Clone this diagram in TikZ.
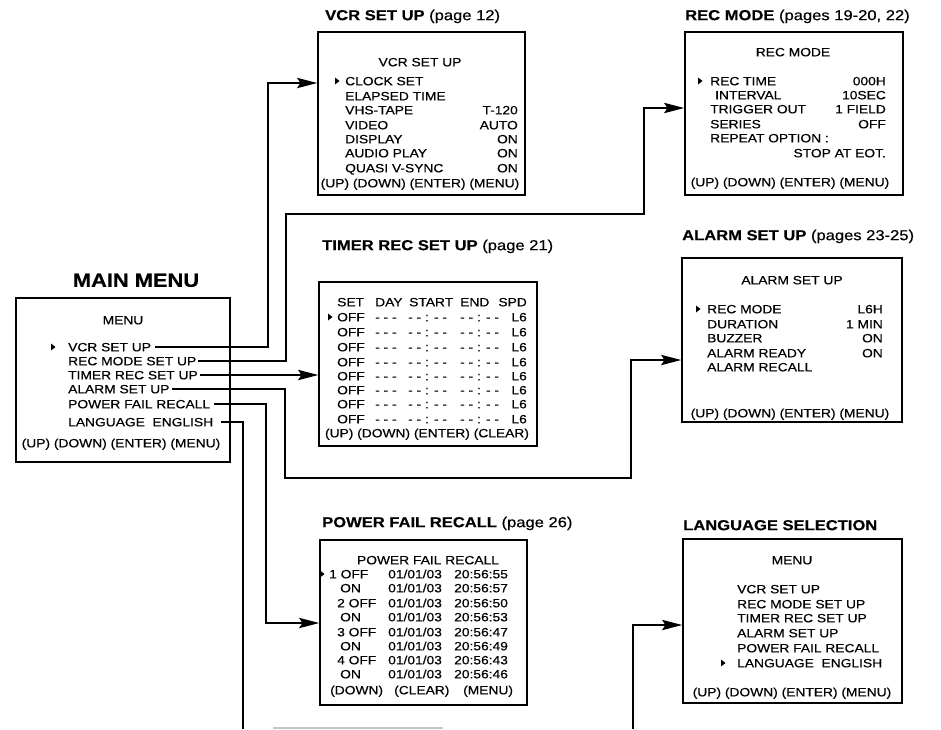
\documentclass[tikz,border=0pt]{standalone}
\usepackage{fontspec}
\setmainfont{Liberation Sans}[FakeStretch=1.15,FakeBold=0.4]
\usetikzlibrary{arrows.meta}
\begin{document}
\begin{tikzpicture}[x=1pt,y=-1pt,
 box/.style={draw, line width=1.2pt, inner sep=0pt},
 txt/.style={inner sep=0pt, font=\fontsize{12}{14}\selectfont, text height=8.6pt, text depth=0pt},
 lt/.style={txt, anchor=west},
 rt/.style={txt, anchor=east},
 ct/.style={txt, anchor=center},
 ttl/.style={inner sep=0pt, font=\fontsize{14.4}{17}\selectfont, text height=10.3pt, text depth=0pt, anchor=west},
 conn/.style={line width=2.9pt},
 arr/.style={conn, -{Stealth[length=20pt,width=10pt,inset=3pt]}},
]
\useasboundingbox[fill=white] (0,0) rectangle (941,729);

% ---------------- MAIN MENU ----------------
\node[box, minimum width=214pt, minimum height=164pt] (mainbox) at (123,380) {};
\node[inner sep=0pt, font=\bfseries\fontsize{19}{22}\selectfont, text height=13.6pt, text depth=0pt] (maintitle) at (136,280) {MAIN MENU};
\node[ct] (mmenu) at (123,320) {MENU};
\node[lt] (m1) at (68,347) {VCR SET UP};
\node[lt] (m2) at (68,361) {REC MODE SET UP};
\node[lt] (m3) at (68,375) {TIMER REC SET UP};
\node[lt] (m4) at (68,389) {ALARM SET UP};
\node[lt] (m5) at (68,404) {POWER FAIL RECALL};
\node[lt] (m6) at (68,422) {LANGUAGE\ \ ENGLISH};
\node[ct] (mfoot) at (121,443) {(UP) (DOWN) (ENTER) (MENU)};

% ---------------- VCR SET UP ----------------
\node[box, minimum width=207pt, minimum height=163pt] (vcrbox) at (421.5,113.5) {};
\node[ttl] (vcrtitle) at (325,15) {\textbf{VCR SET UP} (page 12)};
\node[ct] (vhead) at (420,62) {VCR SET UP};
\foreach \t/\y [count=\i] in {CLOCK SET/81, ELAPSED TIME/96, VHS-TAPE/110, VIDEO/125, DISPLAY/139, AUDIO PLAY/153, QUASI V-SYNC/168}
  \node[lt] (vi\i) at (345,\y) {\t};
\foreach \t/\y [count=\i] in {T-120/110, AUTO/125, ON/139, ON/153, ON/168}
  \node[rt] (vv\i) at (518,\y) {\t};
\node[ct] (vfoot) at (420,183) {(UP) (DOWN) (ENTER) (MENU)};

% ---------------- REC MODE ----------------
\node[box, minimum width=218pt, minimum height=163pt] (recbox) at (794,113.5) {};
\node[ttl] (rectitle) at (685,15) {\textbf{REC MODE} (pages 19-20, 22)};
\node[ct] (rhead) at (793,52) {REC MODE};
\node[lt] (ri1) at (710,81) {REC TIME};
\node[lt] (ri2) at (715,95) {INTERVAL};
\node[lt] (ri3) at (710,109) {TRIGGER OUT};
\node[lt] (ri4) at (710,124) {SERIES};
\node[lt] (ri5) at (710,138) {REPEAT OPTION :};
\foreach \t/\y [count=\i] in {000H/81, 10SEC/95, 1 FIELD/109, OFF/124, STOP AT EOT./153}
  \node[rt] (rv\i) at (886,\y) {\t};
\node[ct] (rfoot) at (790,182) {(UP) (DOWN) (ENTER) (MENU)};

% ---------------- TIMER REC SET UP ----------------
\node[box, minimum width=218pt, minimum height=164pt] (timerbox) at (428,364) {};
\node[ttl] (timertitle) at (322,245) {\textbf{TIMER REC SET UP} (page 21)};
\node[lt] (th1) at (337,302) {SET};
\node[lt] (th2) at (375,302) {DAY};
\node[lt] (th3) at (409,302) {START};
\node[lt] (th4) at (460,302) {END};
\node[rt] (th5) at (527,302) {SPD};
\foreach \y [count=\i] in {317,332,347,362,376,390,404,419} {
  \node[lt] (to\i) at (337,\y) {OFF};
  \node[lt] (td\i) at (375,\y) {- - -};
  \node[lt] (ts\i) at (408,\y) {- - : - -};
  \node[lt] (te\i) at (460,\y) {- - : - -};
  \node[rt] (tp\i) at (527,\y) {L6};
}
\node[ct] (tfoot) at (427,433) {(UP) (DOWN) (ENTER) (CLEAR)};

% ---------------- ALARM SET UP ----------------
\node[box, minimum width=220pt, minimum height=164pt] (alarmbox) at (792,340) {};
\node[ttl] (alarmtitle) at (682,235) {\textbf{ALARM SET UP} (pages 23-25)};
\node[ct] (ahead) at (792,280) {ALARM SET UP};
\foreach \t/\y [count=\i] in {REC MODE/309, DURATION/324, BUZZER/338, ALARM READY/353, ALARM RECALL/367}
  \node[lt] (ai\i) at (707,\y) {\t};
\foreach \t/\y [count=\i] in {L6H/309, 1 MIN/324, ON/338, ON/353}
  \node[rt] (av\i) at (883,\y) {\t};
\node[ct] (afoot) at (790,413) {(UP) (DOWN) (ENTER) (MENU)};

% ---------------- POWER FAIL RECALL ----------------
\node[box, minimum width=207pt, minimum height=165pt] (powerbox) at (423.5,622.5) {};
\node[ttl] (powertitle) at (322,522) {\textbf{POWER FAIL RECALL} (page 26)};
\node[ct] (phead) at (428,560) {POWER FAIL RECALL};
\foreach \t/\x/\y/\h [count=\i] in {1 OFF/329/574/20:56:55, ON/340/588/20:56:57, 2 OFF/337/603/20:56:50, ON/340/617/20:56:53, 3 OFF/337/632/20:56:47, ON/340/646/20:56:49, 4 OFF/337/660/20:56:43, ON/340/674/20:56:46} {
  \node[lt] (pl\i) at (\x,\y) {\t};
  \node[lt] (pd\i) at (388,\y) {01/01/03};
  \node[lt] (ph\i) at (454,\y) {\h};
}
\node[lt] (pf1) at (330,690) {(DOWN)};
\node[lt] (pf2) at (394,690) {(CLEAR)};
\node[lt] (pf3) at (463,690) {(MENU)};

% ---------------- LANGUAGE SELECTION ----------------
\node[box, minimum width=219pt, minimum height=164pt] (langbox) at (792.5,621) {};
\node[ttl] (langtitle) at (683,525) {\textbf{LANGUAGE SELECTION}};
\node[ct] (lhead) at (792,560) {MENU};
\foreach \t/\y [count=\i] in {VCR SET UP/589, REC MODE SET UP/604, TIMER REC SET UP/618, ALARM SET UP/633, POWER FAIL RECALL/648, LANGUAGE\ \ ENGLISH/663}
  \node[lt] (li\i) at (737,\y) {\t};
\node[ct] (lfoot) at (792,692) {(UP) (DOWN) (ENTER) (MENU)};

% ---------------- cursor markers ----------------
\foreach \x/\y in {53/347, 337/81, 700/81, 330/317, 698/309, 322/574, 723/663}
  \fill (\x-2,\y-3.5) -- (\x+2.5,\y) -- (\x-2,\y+3.5) -- cycle;

% ---------------- connectors ----------------
\coordinate (c1a) at (268,83);
\draw[arr] ([xshift=4pt]m1.east) -| (c1a) -- (c1a -| vcrbox.west);

\coordinate (c2a) at (286,214);
\coordinate (c2b) at (644,108);
\draw[arr] ([xshift=2pt]m2.east) -| (c2a) -| (c2b) -- (c2b -| recbox.west);

\draw[arr] ([xshift=2pt]m3.east) -- (m3 -| timerbox.west);

\coordinate (c4a) at (285,478);
\coordinate (c4b) at (631,360);
\draw[arr] ([xshift=2pt]m4.east) -| (c4a) -| (c4b) -- (c4b -| alarmbox.west);

\coordinate (c5a) at (266,623);
\draw[arr] ([xshift=4pt]m5.east) -| (c5a) -- (c5a -| powerbox.west);

\coordinate (c6a) at (243,729);
\draw[conn] ([xshift=8pt]m6.east) -| (c6a);

\coordinate (c7a) at (633,729);
\coordinate (c7b) at (633,625);
\draw[arr] (c7a) -- (c7b) -- (c7b -| langbox.west);

% partial edge of a cut-off box at the bottom
\draw[gray!45, line width=2pt] (273,728) -- (443,728);
\end{tikzpicture}
\end{document}
